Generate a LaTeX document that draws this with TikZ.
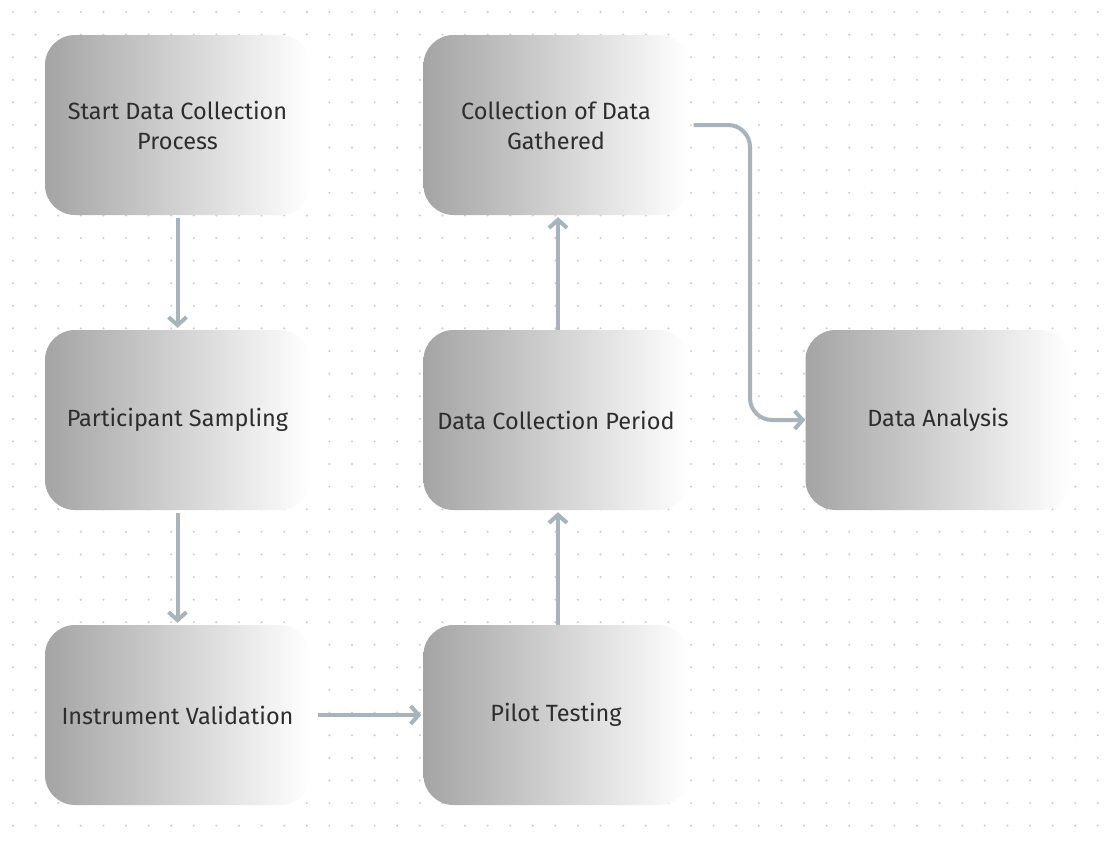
\documentclass[tikz,border=0pt]{standalone}
\usepackage{fontspec}
\setmainfont{Fira Sans}
\usetikzlibrary{arrows.meta}
\definecolor{boxgray}{RGB}{164,164,164}
\definecolor{arrowcol}{RGB}{166,180,188}
\definecolor{dotcol}{RGB}{208,208,208}
\definecolor{txt}{RGB}{45,45,45}
\tikzset{
  stepbox/.style={rounded corners=30pt, left color=boxgray, right color=white,
    minimum width=265pt, minimum height=180pt, inner sep=0pt, align=center,
    text=txt, font=\fontsize{23.5}{30}\selectfont},
  flow/.style={draw=arrowcol, line width=4pt, rounded corners=22pt,
    -{Straight Barb[length=8pt,width=18pt,line width=4pt]}}
}
\begin{document}
\begin{tikzpicture}[x=1pt,y=-1pt]
\useasboundingbox (0,0) rectangle (1117,846);
\fill[white] (0,0) rectangle (1117,846);
\foreach \i in {0,...,49}{
  \foreach \j in {0,...,36}{
    \fill[dotcol] ({13+22.6*\i},{12+22.6*\j}) circle (1.2pt);
  }
}
\node[stepbox] (s1) at (177.5,125) {Start Data Collection\\Process};
\node[stepbox] (s2) at (177.5,420) {Participant Sampling};
\node[stepbox] (s3) at (177.5,715) {Instrument Validation};
\node[stepbox] (s4) at (556,715) {Pilot Testing};
\node[stepbox] (s5) at (556,420) {Data Collection Period};
\node[stepbox] (s6) at (556,125) {Collection of Data\\Gathered};
\node[stepbox] (s7) at (938,420) {Data Analysis};
\coordinate (bend) at (750,125);
\draw[flow, shorten <=3pt, shorten >=2pt] (s1.south) -- (s2.north);
\draw[flow, shorten <=3pt, shorten >=2pt] (s2.south) -- (s3.north);
\draw[flow, shorten <=8pt, shorten >=2pt] (s3.east) -- (s4.west);
\draw[flow, shorten >=2pt] ([xshift=2pt]s4.north) -- ([xshift=2pt]s5.south);
\draw[flow, shorten >=2pt] ([xshift=2pt]s5.north) -- ([xshift=2pt]s6.south);
\draw[flow] ([xshift=5pt]s6.east) -- (bend) |- (s7.west);
\end{tikzpicture}
\end{document}
